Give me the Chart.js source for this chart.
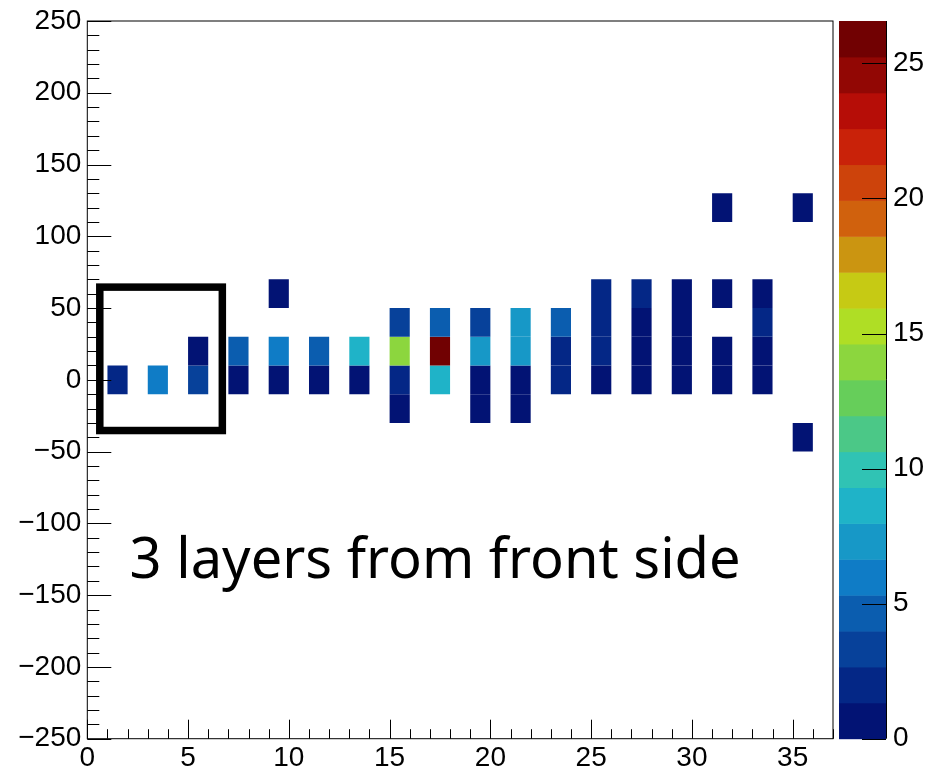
<!DOCTYPE html>
<html><head><meta charset="utf-8">
<script src="https://cdn.jsdelivr.net/npm/chart.js@4/dist/chart.umd.min.js"></script>
<style>html,body{margin:0;padding:0;background:#fff;}canvas{display:block;}</style>
</head><body>
<canvas id="c" width="929" height="772" style="width:929px;height:772px"></canvas>
<script>
// ---- data (2D histogram, x bins of width 1, y bins of width 20) ----
const cellX = [1, 3, 5, 5, 7, 7, 9, 9, 9, 11, 11, 13, 13,
  15, 15, 15, 15, 17, 17, 17, 19, 19, 19, 19, 21, 21, 21, 21,
  23, 23, 23, 25, 25, 25, 25, 27, 27, 27, 27, 29, 29, 29, 29,
  31, 31, 31, 31, 33, 33, 33, 33, 35, 35];
const cellY = [0, 0, 0, 20, 0, 20, 0, 20, 60, 0, 20, 0, 20,
  -20, 0, 20, 40, 0, 20, 40, -20, 0, 20, 40, -20, 0, 20, 40,
  0, 20, 40, 0, 20, 40, 60, 0, 20, 40, 60, 0, 20, 40, 60,
  0, 20, 60, 120, 0, 20, 40, 60, -40, 120];
const cellZ = [2, 6, 3, 1, 1, 5, 1, 6, 1, 1, 5, 1, 8,
  1, 2, 14, 3, 8, 26.57, 5, 1, 1, 7, 3, 1, 1, 7, 7,
  2, 2, 5, 1, 2, 2, 2, 1, 1, 1, 2, 1, 1, 1, 1,
  1, 1, 1, 1, 1, 1, 2, 1, 1, 1];
const xTickLabels = [0, 5, 10, 15, 20, 25, 30, 35];
const yTickLabels = [-250, -200, -150, -100, -50, 0, 50, 100, 150, 200, 250];
const zTickLabels = [0, 5, 10, 15, 20, 25];
const xRange = [0, 37];
const yRange = [-250, 250];
const zMax = 26.57;
const annotationText = '3 layers from front side';
const boxRegion = [0.62, 6.7, -35.3, 64.6]; // x0, x1, y0, y1 in data units
const textAnchor = [2.1, -138];

// ---- style: ROOT kRainBow palette, 20 contour levels ----
const stopR = [0, 5, 15, 35, 102, 196, 208, 199, 110];
const stopG = [0, 48, 124, 192, 206, 226, 97, 16, 0];
const stopB = [99, 142, 198, 201, 90, 22, 13, 8, 2];
const NCOL = 255, NDIV = 20;
function paletteColor(k) {
  for (let g = 1; g < 9; g++) {
    const a = Math.floor(NCOL * (g - 1) / 8), b = Math.floor(NCOL * g / 8);
    if (k < b || g === 8) {
      const t = (k - a) / (b - a);
      const r = stopR[g - 1] + t * (stopR[g] - stopR[g - 1]);
      const gg = stopG[g - 1] + t * (stopG[g] - stopG[g - 1]);
      const bb = stopB[g - 1] + t * (stopB[g] - stopB[g - 1]);
      return `rgb(${Math.round(r)},${Math.round(gg)},${Math.round(bb)})`;
    }
  }
}
function bandColor(i) {
  let k = Math.floor((i + 0.99) * NCOL / NDIV);
  if (k > NCOL - 1) k = NCOL - 1;
  return paletteColor(k);
}
function zColor(z) {
  return bandColor(Math.floor(0.01 + z * NDIV / zMax));
}

const AXFONT = { family: '"Liberation Sans", Arial, Helvetica, sans-serif', size: 28 };
const fmt = v => (v < 0 ? '\u2212' + Math.abs(v) : String(v));
const noPad = s => { s.paddingTop = 0; s.paddingBottom = 0; s.paddingLeft = 0; s.paddingRight = 0; };

const rootPlugin = {
  id: 'rootFrame',
  afterDatasetsDraw(chart) {
    const { ctx, chartArea: a, scales } = chart;
    const xs = scales.x, ys = scales.y, zs = scales.z;
    ctx.save();
    ctx.strokeStyle = '#000';
    ctx.lineWidth = 1;
    // frame
    ctx.strokeRect(a.left, a.top, a.right - a.left, a.bottom - a.top);
    // x ticks
    ctx.beginPath();
    for (let v = xRange[0]; v <= xRange[1]; v++) {
      const px = Math.round(xs.getPixelForValue(v)) + 0.5;
      const len = v % 5 === 0 ? 19 : 9.5;
      ctx.moveTo(px, a.bottom); ctx.lineTo(px, a.bottom - len);
    }
    // y ticks
    for (let v = yRange[0]; v <= yRange[1]; v += 10) {
      const py = Math.round(ys.getPixelForValue(v)) + 0.5;
      const len = v % 50 === 0 ? 24 : 12;
      ctx.moveTo(a.left, py); ctx.lineTo(a.left + len, py);
    }
    ctx.stroke();
    // colour bar
    const cbL = a.right + 6, cbR = a.right + 53;
    const dz = zMax / NDIV;
    for (let i = 0; i < NDIV; i++) {
      const y0 = zs.getPixelForValue(i * dz), y1 = zs.getPixelForValue((i + 1) * dz);
      ctx.fillStyle = bandColor(i);
      ctx.fillRect(cbL, y1, cbR - cbL, y0 - y1 + 0.5);
    }
    ctx.beginPath();
    ctx.moveTo(cbR + 0.5, a.top); ctx.lineTo(cbR + 0.5, a.bottom);
    zTickLabels.forEach(v => {
      const py = Math.round(zs.getPixelForValue(v)) + 0.5;
      ctx.moveTo(cbR - 24, py); ctx.lineTo(cbR, py);
    });
    ctx.stroke();
    // annotation box
    const bx0 = xs.getPixelForValue(boxRegion[0]), bx1 = xs.getPixelForValue(boxRegion[1]);
    const by0 = ys.getPixelForValue(boxRegion[2]), by1 = ys.getPixelForValue(boxRegion[3]);
    ctx.lineWidth = 7.5;
    ctx.strokeRect(bx0, by1, bx1 - bx0, by0 - by1);
    // annotation text
    ctx.fillStyle = '#000';
    ctx.font = '56px "Noto Sans", "Open Sans", sans-serif';
    ctx.textBaseline = 'alphabetic';
    ctx.textAlign = 'left';
    ctx.fillText(annotationText, xs.getPixelForValue(textAnchor[0]), ys.getPixelForValue(textAnchor[1]));
    ctx.restore();
  }
};

new Chart(document.getElementById('c'), {
  type: 'bar',
  data: {
    datasets: [{
      data: cellX.map((x, i) => ({ x: x + 0.5, y: [cellY[i] - 10, cellY[i] + 10], z: cellZ[i] })),
      backgroundColor: c => (c.raw ? zColor(c.raw.z) : 'rgba(0,0,0,0)'),
      borderWidth: 0,
      barPercentage: 0.5,
      categoryPercentage: 1,
      grouped: false,
      xAxisID: 'x',
      yAxisID: 'y'
    }]
  },
  options: {
    responsive: false,
    animation: false,
    devicePixelRatio: 1,
    layout: { padding: { top: 21, left: 0, right: 0, bottom: 0 } },
    plugins: { legend: { display: false }, tooltip: { enabled: false } },
    scales: {
      x: {
        type: 'linear', position: 'bottom', min: xRange[0], max: xRange[1], offset: false,
        grid: { display: false, drawTicks: false }, border: { display: false },
        ticks: { font: AXFONT, color: '#000', padding: 3, maxRotation: 0, autoSkip: false, includeBounds: false, callback: fmt },
        afterBuildTicks: s => { s.ticks = xTickLabels.map(v => ({ value: v })); },
        afterFit: s => { s.height = 33.3; noPad(s); }
      },
      y: {
        type: 'linear', position: 'left', min: yRange[0], max: yRange[1],
        grid: { display: false, drawTicks: false }, border: { display: false },
        ticks: { font: AXFONT, color: '#000', padding: 6, autoSkip: false, includeBounds: false, callback: fmt },
        afterBuildTicks: s => { s.ticks = yTickLabels.map(v => ({ value: v })); },
        afterFit: s => { s.width = 87.3; noPad(s); }
      },
      z: {
        type: 'linear', position: 'right', min: 0, max: zMax,
        grid: { display: false, drawTicks: false }, border: { display: false },
        ticks: { font: AXFONT, color: '#000', padding: 60, autoSkip: false, includeBounds: false, callback: fmt },
        afterBuildTicks: s => { s.ticks = zTickLabels.map(v => ({ value: v })); },
        afterFit: s => { s.width = 96; noPad(s); }
      }
    }
  },
  plugins: [rootPlugin]
});
</script>
</body></html>
